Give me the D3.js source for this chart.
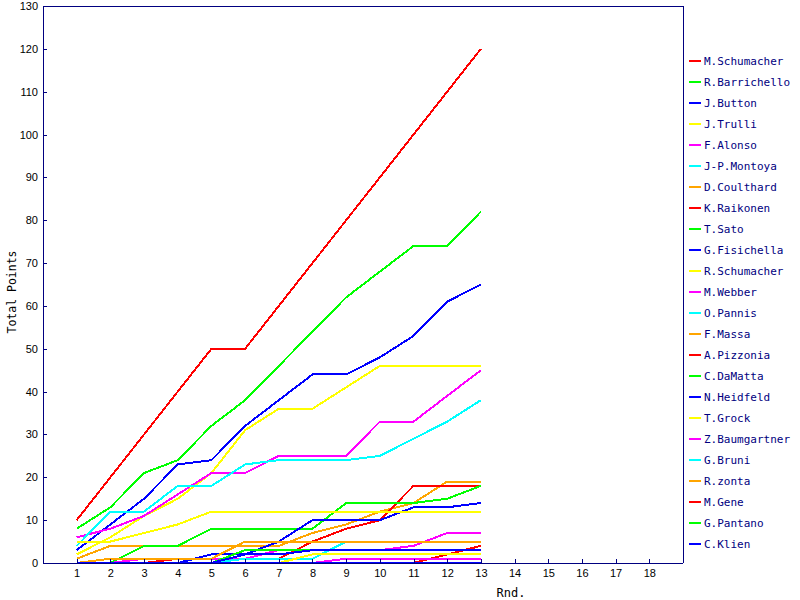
<!DOCTYPE html>
<html>
<head>
<meta charset="utf-8">
<script src="https://cdn.jsdelivr.net/npm/d3@7"></script>
<style>
html,body{margin:0;padding:0;background:#fff;}
svg{display:block;}
</style>
</head>
<body>
<svg id="chart" width="800" height="600"></svg>
<script>
const rounds = [1,2,3,4,5,6,7,8,9,10,11,12,13];
const xTicks = [1,2,3,4,5,6,7,8,9,10,11,12,13,14,15,16,17,18];
const yTicks = [0,10,20,30,40,50,60,70,80,90,100,110,120,130];
const drivers = ["M.Schumacher","R.Barrichello","J.Button","J.Trulli","F.Alonso","J-P.Montoya","D.Coulthard","K.Raikonen","T.Sato","G.Fisichella","R.Schumacher","M.Webber","O.Pannis","F.Massa","A.Pizzonia","C.DaMatta","N.Heidfeld","T.Grock","Z.Baumgartner","G.Bruni","R.zonta","M.Gene","G.Pantano","C.Klien"];
const colors = ["#ff0000","#00ff00","#0000ff","#ffff00","#ff00ff","#00ffff","#ffa500"];
const points = [
  [10,20,30,40,50,50,60,70,80,90,100,110,120],
  [8,13,21,24,32,38,46,54,62,68,74,74,82],
  [3,9,15,23,24,32,38,44,44,48,53,61,65],
  [2,6,11,15,21,31,36,36,41,46,46,46,46],
  [6,8,11,16,21,21,25,25,25,33,33,39,45],
  [4,12,12,18,18,23,24,24,24,25,29,33,38],
  [1,4,4,4,4,4,4,7,9,12,14,19,19],
  [0,0,0,1,1,1,1,5,8,10,18,18,18],
  [0,0,4,4,8,8,8,8,14,14,14,15,18],
  [0,0,0,0,2,2,5,10,10,10,13,13,14],
  [5,5,7,9,12,12,12,12,12,12,12,12,12],
  [0,0,1,1,1,1,3,3,3,3,4,7,7],
  [0,0,0,0,0,1,1,1,5,5,5,5,5],
  [0,1,1,1,1,5,5,5,5,5,5,5,5],
  [0,0,0,0,0,0,0,0,0,0,0,2,4],
  [0,0,0,0,0,3,3,3,3,3,3,3,3],
  [0,0,0,0,0,2,2,3,3,3,3,3,3],
  [0,0,0,0,0,0,0,2,2,2,2,2,2],
  [0,0,0,0,0,0,0,0,1,1,1,1,1],
  [0,0,0,0,0,0,0,0,0,0,0,0,0],
  [0,0,0,0,0,0,0,0,0,0,0,0,0],
  [0,0,0,0,0,0,0,0,0,0,0,0,0],
  [0,0,0,0,0,0,0,0,0,0,0,0,0],
  [0,0,0,0,0,0,0,0,0,0,0,0,0]
];

const svg = d3.select("#chart");
const L = 43, R = 683, T = 6, B = 563;
const axisColor = "#000080";
const x = d3.scaleLinear().domain([0,19]).range([L,R]);
const y = d3.scaleLinear().domain([0,130]).range([B,T]);

// frame
svg.append("path")
  .attr("d", `M${L},${T}H${R}V${B}`)
  .attr("fill","none").attr("stroke",axisColor).attr("stroke-width",1)
  .attr("shape-rendering","crispEdges");

const lineGen = d3.line().x((d,i)=>x(rounds[i])).y(d=>y(d));
const g = svg.append("g");
points.forEach((s,k)=>{
  g.append("path").datum(s)
    .attr("d", lineGen)
    .attr("fill","none")
    .attr("stroke", colors[k % colors.length])
    .attr("stroke-width", 2)
    .attr("stroke-linejoin","miter")
    .attr("shape-rendering","crispEdges");
});

const tickFont = "'Liberation Sans Narrow','Liberation Sans',Arial,sans-serif";
const yAxis = svg.append("g").attr("transform",`translate(${L},0)`)
  .call(d3.axisLeft(y).tickValues(yTicks).tickSize(-4).tickSizeOuter(0).tickPadding(5));
const xAxis = svg.append("g").attr("transform",`translate(0,${B})`)
  .call(d3.axisBottom(x).tickValues(xTicks).tickSize(-4).tickSizeOuter(0).tickPadding(6));
[yAxis,xAxis].forEach(a=>{
  a.select(".domain").attr("stroke",axisColor).attr("shape-rendering","crispEdges");
  a.selectAll(".tick line").attr("stroke",axisColor).attr("shape-rendering","crispEdges");
  a.selectAll(".tick text").attr("fill","#000").attr("font-size",11).attr("font-family",tickFont);
});
xAxis.select(".domain").attr("d",`M${L},0.5H${R}`);

const monoFont = "'DejaVu Sans Mono',monospace";
svg.append("text")
  .attr("transform","translate(16,292) rotate(-90)")
  .attr("text-anchor","middle")
  .attr("font-family",monoFont).attr("font-size",11.5).attr("fill","#000")
  .text("Total Points");
svg.append("text")
  .attr("x",511).attr("y",597)
  .attr("text-anchor","middle")
  .attr("font-family",monoFont).attr("font-size",12).attr("fill","#000")
  .text("Rnd.");

// legend
const leg = svg.append("g");
drivers.forEach((name,k)=>{
  const ly = 61 + k*21;
  leg.append("line").attr("x1",689).attr("x2",701).attr("y1",ly).attr("y2",ly)
    .attr("stroke",colors[k % colors.length]).attr("stroke-width",2)
    .attr("shape-rendering","crispEdges");
  leg.append("text").attr("x",704).attr("y",ly).attr("dy","0.36em")
    .attr("font-family",monoFont).attr("font-size",11).attr("fill","#000080")
    .text(name);
});
</script>
</body>
</html>
